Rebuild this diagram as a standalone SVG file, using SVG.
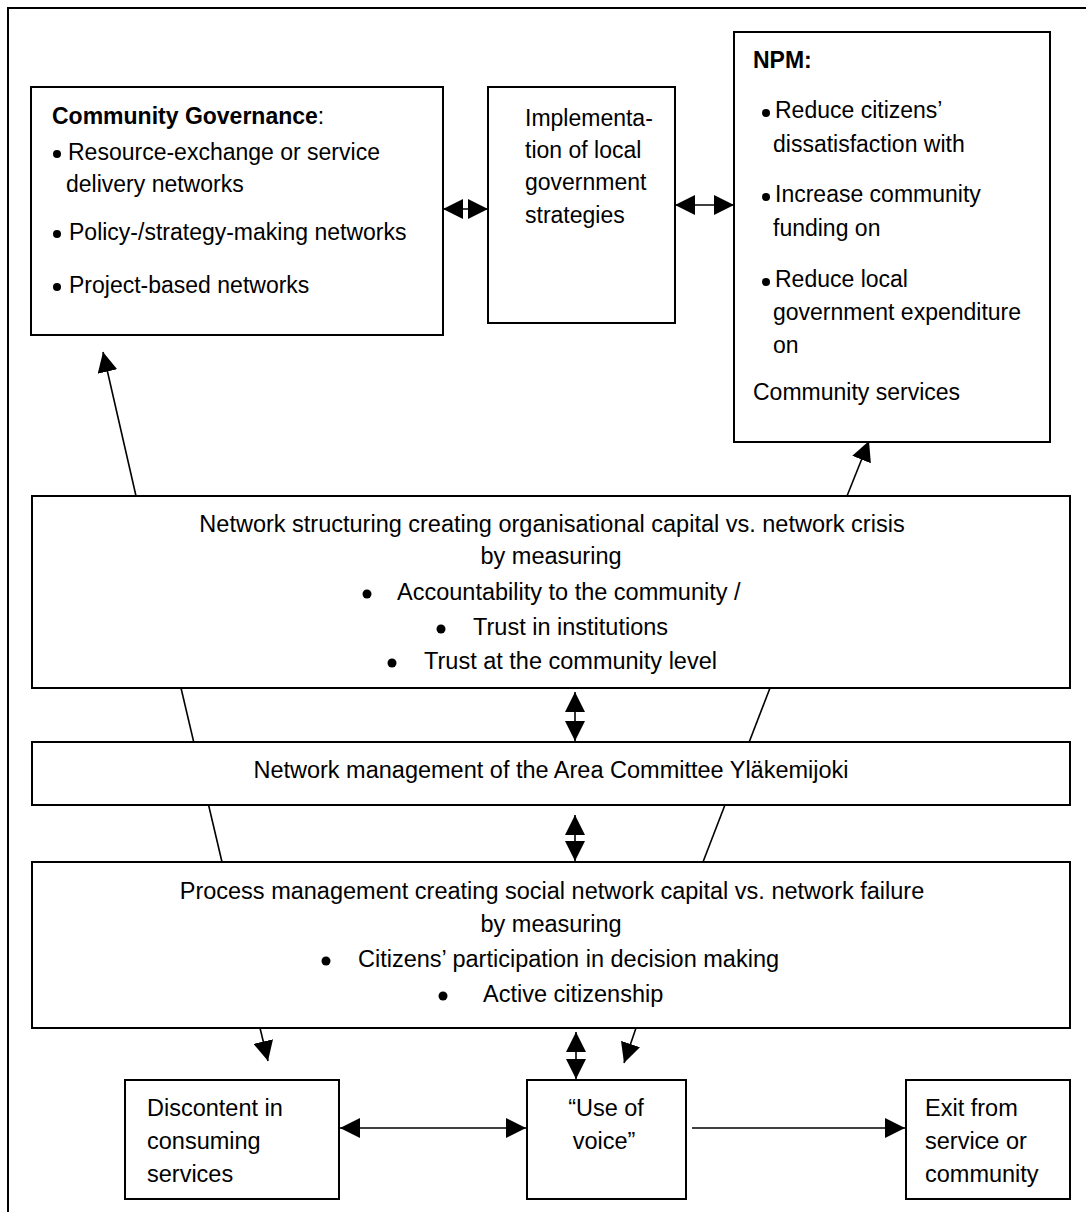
<svg xmlns="http://www.w3.org/2000/svg" width="1086" height="1212" viewBox="0 0 1086 1212">
<style>
.box{fill:#fff;stroke:#000;stroke-width:2}
.t{font-family:"Liberation Sans",Arial,sans-serif;font-size:23px;fill:#000}
.w{font-size:23.5px}
.m{text-anchor:middle}
.b{font-weight:bold}
.c{stroke:#000;stroke-width:1.6;fill:none}
.d{fill:#000}
</style>
<defs>
<marker id="ah" markerUnits="userSpaceOnUse" viewBox="0 0 20 20" markerWidth="20" markerHeight="20" refX="20" refY="10" orient="auto-start-reverse"><path d="M0,0 L20,10 L0,20 z" fill="#000"/></marker>
</defs>
<rect width="1086" height="1212" fill="#fff"/>
<path d="M8,1212 V8 H1086" fill="none" stroke="#000" stroke-width="2"/>

<g id="connectors">
<line class="c" x1="136" y1="496" x2="103" y2="352" marker-end="url(#ah)"/>
<line class="c" x1="847" y1="496" x2="869" y2="441" marker-end="url(#ah)"/>
<line class="c" x1="443" y1="209" x2="488" y2="209" marker-start="url(#ah)" marker-end="url(#ah)"/>
<line class="c" x1="675" y1="205" x2="734" y2="205" marker-start="url(#ah)" marker-end="url(#ah)"/>
<line class="c" x1="181" y1="688" x2="222" y2="862"/>
<line class="c" x1="770" y1="688" x2="703" y2="862"/>
<line class="c" x1="575" y1="692" x2="575" y2="741" marker-start="url(#ah)" marker-end="url(#ah)"/>
<line class="c" x1="575" y1="815" x2="575" y2="861" marker-start="url(#ah)" marker-end="url(#ah)"/>
<line class="c" x1="260" y1="1028" x2="268" y2="1061" marker-end="url(#ah)"/>
<line class="c" x1="576" y1="1032" x2="576" y2="1079" marker-start="url(#ah)" marker-end="url(#ah)"/>
<line class="c" x1="636" y1="1028" x2="624" y2="1063" marker-end="url(#ah)"/>
<line class="c" x1="340" y1="1128" x2="526" y2="1128" stroke-width="2" marker-start="url(#ah)" marker-end="url(#ah)"/>
<line class="c" x1="692" y1="1128" x2="905" y2="1128" stroke-width="2" marker-end="url(#ah)"/>
</g>

<g id="community-governance">
<rect class="box" x="31" y="87" width="412" height="248"/>
<text class="t" x="52" y="124"><tspan class="b">Community Governance</tspan>:</text>
<circle class="d" cx="57" cy="154" r="4"/>
<text class="t" x="68" y="160">Resource-exchange or service</text>
<text class="t" x="66" y="192">delivery networks</text>
<circle class="d" cx="57" cy="234" r="4"/>
<text class="t" x="69" y="240">Policy-/strategy-making networks</text>
<circle class="d" cx="57" cy="287" r="4"/>
<text class="t" x="69" y="293">Project-based networks</text>
</g>

<g id="implementation">
<rect class="box" x="488" y="87" width="187" height="236"/>
<text class="t" x="525" y="126">Implementa-</text>
<text class="t" x="525" y="158">tion of local</text>
<text class="t" x="525" y="190">government</text>
<text class="t" x="525" y="223">strategies</text>
</g>

<g id="npm">
<rect class="box" x="734" y="32" width="316" height="410"/>
<text class="t b" x="753" y="68">NPM:</text>
<circle class="d" cx="766" cy="113" r="4"/>
<text class="t" x="775" y="118">Reduce citizens’</text>
<text class="t" x="773" y="152">dissatisfaction with</text>
<circle class="d" cx="766" cy="197" r="4"/>
<text class="t" x="775" y="202">Increase community</text>
<text class="t" x="773" y="236">funding on</text>
<circle class="d" cx="766" cy="282" r="4"/>
<text class="t" x="775" y="287">Reduce local</text>
<text class="t" x="773" y="320">government expenditure</text>
<text class="t" x="773" y="353">on</text>
<text class="t" x="753" y="400">Community services</text>
</g>

<g id="network-structuring">
<rect class="box" x="32" y="496" width="1038" height="192"/>
<text class="t w m" x="552" y="532">Network structuring creating organisational capital vs. network crisis</text>
<text class="t w m" x="551" y="564">by measuring</text>
<circle class="d" cx="367" cy="594" r="4.5"/>
<text class="t w" x="397" y="600">Accountability to the community /</text>
<circle class="d" cx="441" cy="629" r="4.5"/>
<text class="t w" x="473" y="635">Trust in institutions</text>
<circle class="d" cx="392" cy="663" r="4.5"/>
<text class="t w" x="424" y="669">Trust at the community level</text>
</g>

<g id="network-management">
<rect class="box" x="32" y="742" width="1038" height="63"/>
<text class="t w m" x="551" y="778">Network management of the Area Committee Yläkemijoki</text>
</g>

<g id="process-management">
<rect class="box" x="32" y="862" width="1038" height="166"/>
<text class="t w m" x="552" y="899">Process management creating social network capital vs. network failure</text>
<text class="t w m" x="551" y="932">by measuring</text>
<circle class="d" cx="326" cy="961" r="4.5"/>
<text class="t w" x="358" y="967">Citizens’ participation in decision making</text>
<circle class="d" cx="443" cy="996" r="4.5"/>
<text class="t w" x="483" y="1002">Active citizenship</text>
</g>

<g id="discontent">
<rect class="box" x="125" y="1080" width="214" height="119"/>
<text class="t w" x="147" y="1116">Discontent in</text>
<text class="t w" x="147" y="1149">consuming</text>
<text class="t w" x="147" y="1182">services</text>
</g>

<g id="use-of-voice">
<rect class="box" x="527" y="1080" width="159" height="119"/>
<text class="t w m" x="606" y="1116">“Use of</text>
<text class="t w m" x="604" y="1149">voice”</text>
</g>

<g id="exit">
<rect class="box" x="906" y="1080" width="164" height="119"/>
<text class="t w" x="925" y="1116">Exit from</text>
<text class="t w" x="925" y="1149">service or</text>
<text class="t w" x="925" y="1182">community</text>
</g>
</svg>
